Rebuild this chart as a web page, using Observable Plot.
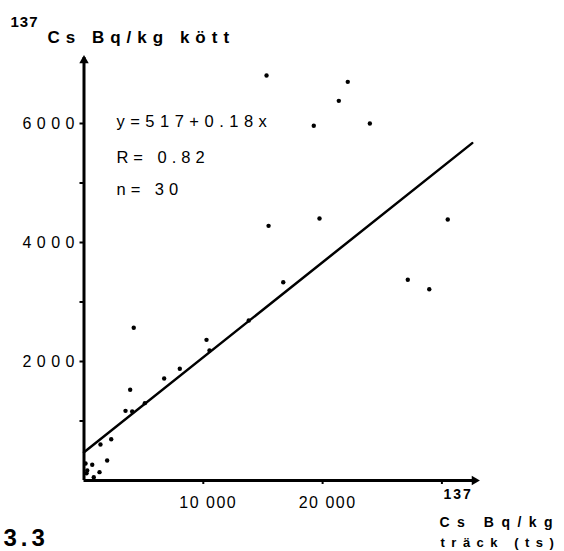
<!DOCTYPE html>
<html><head><meta charset="utf-8">
<script src="https://cdn.jsdelivr.net/npm/d3@7"></script>
<script src="https://cdn.jsdelivr.net/npm/@observablehq/plot@0.6"></script>
<style>body{margin:0;background:#fff}</style>
</head><body><div id="chart"></div>
<script>
// 137Cs Bq/kg in faeces (x) vs meat (y), n = 30
const faeces = [15300, 22110, 21360, 19260, 23960, 15470, 19740, 30490, 27140, 28940,
                16700, 4170, 10270, 10520, 13810, 8030, 6720, 3870, 5100, 3480,
                4040, 2280, 1380, 1940, 1300, 690, 820, 130, 270, 210];
const meat   = [6806, 6700, 6381, 5961, 6000, 4280, 4403, 4387, 3373, 3215,
                3333, 2566, 2364, 2185, 2689, 1877, 1714, 1524, 1300, 1171,
                1160, 694, 605, 336, 140, 264, 55, 285, 170, 120];
// regression line as drawn
const fitX = [0, 32540];
const fitY = [476, 5670];
// axes
const yTicks = [1000, 2000, 3000, 4000, 5000, 6000];
const yTickLabels = ["", "2000", "", "4000", "", "6000"];
const xTicks = [10000, 20000, 30000];
const xTickLabels = ["10 000", "20 000", ""];
const yAxisTop = 7110;
const xAxisEnd = 32980;
// annotation
const statLines = ["y=517+0.18x", "R= 0.82", "n= 30"];
const statX = [2720, 2720, 2720];
const statY = [5938, 5333, 4790];

const font = "'Liberation Sans', Arial, Helvetica, sans-serif";

const chart = Plot.plot({
  width: 564, height: 551,
  marginLeft: 83.5, marginRight: 86.8, marginTop: 51.6, marginBottom: 71,
  x: {domain: [0, 33000], axis: null},
  y: {domain: [0, 7200], axis: null},
  style: {fontFamily: font, background: "#fff", color: "#000"},
  marks: [
    Plot.axisY({ticks: yTicks, tickSize: 4, tickPadding: 0, strokeWidth: 2,
      tickFormat: d => yTickLabels[yTicks.indexOf(d)], fontSize: 16}),
    Plot.axisX({ticks: xTicks, tickSize: 4, strokeWidth: 2, tickFormat: () => ""}),
    Plot.axisX({ticks: xTicks, tickSize: 0, tickPadding: 16, dx: 5,
      tickFormat: d => xTickLabels[xTicks.indexOf(d)], fontSize: 16}),
    Plot.ruleX([0], {y1: 0, y2: yAxisTop, strokeWidth: 3}),
    Plot.ruleY([0], {x1: 0, x2: xAxisEnd, strokeWidth: 3}),
    Plot.dot([0], {x: 0, y: yAxisTop, symbol: "triangle", r: 3.5, fill: "#000", dy: 3}),
    Plot.dot([0], {x: xAxisEnd, y: 0, symbol: "triangle", r: 3.5, fill: "#000", rotate: 90, dx: -3}),
    Plot.line(fitX, {x: fitX, y: fitY, strokeWidth: 2.5, stroke: "#000"}),
    Plot.dot(meat, {x: faeces, y: meat, r: 2.2, fill: "#000"}),
    Plot.text(statLines, {x: statX, y: statY, textAnchor: "start", lineAnchor: "bottom", fontSize: 16.5}),
    Plot.text(["137"], {frameAnchor: "top-left", dx: -73.5, dy: -24.9, lineAnchor: "bottom",
      textAnchor: "start", fontSize: 15, fontWeight: "bold"}),
    Plot.text(["Cs Bq/kg kött"], {frameAnchor: "top-left", dx: -36.5, dy: -9.6, lineAnchor: "bottom",
      textAnchor: "start", fontSize: 17, fontWeight: "bold"}),
    Plot.text(["137 "], {frameAnchor: "bottom-right", dx: -34.2, dy: 18.3, lineAnchor: "bottom",
      textAnchor: "start", fontSize: 14, fontWeight: "bold"}),
    Plot.text(["Cs Bq/kg"], {frameAnchor: "bottom-right", dx: -38.2, dy: 46.7, lineAnchor: "bottom",
      textAnchor: "start", fontSize: 14, fontWeight: "bold"}),
    Plot.text(["träck (ts)"], {frameAnchor: "bottom-right", dx: -37.2, dy: 66, lineAnchor: "bottom",
      textAnchor: "start", fontSize: 13, fontWeight: "bold"}),
    Plot.text(["3.3"], {frameAnchor: "bottom-left", dx: -80.5, dy: 65, lineAnchor: "bottom",
      textAnchor: "start", fontSize: 24, fontWeight: "bold"})
  ]
});

// letter spacing (and axis label size) as in the typeset original
const spacing = new Map([
  ["2000", "5.5px"], ["4000", "5.5px"], ["6000", "5.5px"],
  ["10 000", "1.5px"], ["20 000", "1.5px"],
  ["y=517+0.18x", "5.5px"], ["R= 0.82", "5px"], ["n= 30", "5px"],
  ["137", "1px"], ["Cs Bq/kg kött", "6px"], ["137 ", "2px"],
  ["Cs Bq/kg", "7.5px"], ["träck (ts)", "6.5px"], ["3.3", "4px"]
]);
const axisLabels = new Set(["2000", "4000", "6000", "10 000", "20 000"]);
d3.select(chart).selectAll("text").each(function() {
  const t = this.textContent;
  const v = spacing.get(t);
  if (v) { this.style.letterSpacing = v; this.style.fontVariant = "normal"; }
  if (axisLabels.has(t)) this.style.fontSize = "16px";
});
document.getElementById("chart").append(chart);
</script>
</body></html>
